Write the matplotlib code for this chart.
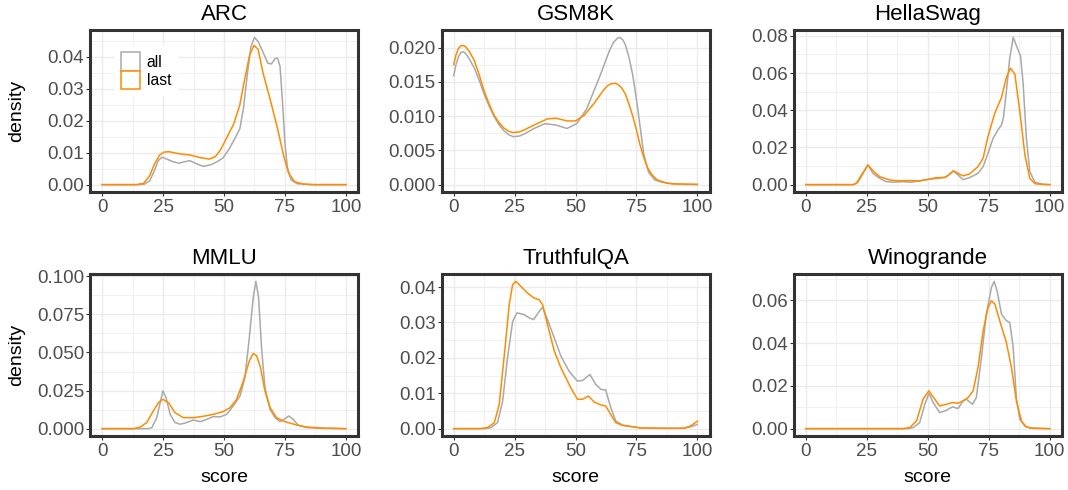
import matplotlib
matplotlib.use('Agg')
import matplotlib.pyplot as plt
from matplotlib.patches import Patch
from matplotlib.ticker import MultipleLocator, FormatStrFormatter

plt.rcParams['font.family'] = ['Liberation Sans', 'DejaVu Sans']

# ---------------- data (density curves) ----------------
benchmarks = ["ARC", "GSM8K", "HellaSwag", "MMLU", "TruthfulQA", "Winogrande"]
series_labels = ["all", "last"]

ARC_all_x = [0, 15, 17.5, 19.5, 21.5, 23, 24.5, 26.5, 29, 31.5, 34, 36, 38.5, 41.5, 44.5, 47, 49.5, 52, 54.5, 56.5,
             58, 59.5, 61, 62.5, 64, 66, 68, 69.5, 71, 72, 73, 74, 75, 76, 77.5, 80, 85, 100]
ARC_all_y = [0, 0, 0.0002, 0.0012, 0.0045, 0.0075, 0.0086, 0.0080, 0.0072, 0.0067, 0.0072, 0.0075, 0.0066, 0.0057,
             0.0062, 0.0071, 0.0083, 0.0110, 0.0145, 0.0175, 0.0240, 0.0340, 0.0430, 0.0461, 0.0448, 0.0415, 0.0380,
             0.0378, 0.0395, 0.0396, 0.0370, 0.0260, 0.0130, 0.0055, 0.0015, 0.0003, 0, 0]
ARC_last_x = [0, 14, 17, 19.5, 21.5, 23.5, 25.5, 27.5, 30, 33, 36, 40, 44, 46.5, 48.5, 51, 54, 56.5, 58.5, 60.5,
              62.3, 64, 66, 69, 72, 74.5, 76.5, 79, 82.5, 87, 100]
ARC_last_y = [0, 0, 0.0004, 0.0028, 0.0065, 0.0092, 0.0102, 0.0103, 0.0099, 0.0095, 0.0093, 0.0085, 0.0080, 0.0088,
              0.0108, 0.0145, 0.0190, 0.0250, 0.0330, 0.0405, 0.0436, 0.0424, 0.0350, 0.0265, 0.0175, 0.0090, 0.0036,
              0.0009, 0.0002, 0, 0]

GSM8K_all_x = [0, 1, 2, 3, 4, 5, 6.5, 8.5, 10.5, 12.5, 14.5, 16.5, 18.5, 20.5, 22.5, 24.5, 27, 29, 33, 37.5, 42,
               46.5, 50.5, 54.5, 58.5, 60.5, 62.5, 64, 65.5, 67, 68.2, 69.5, 70.5, 72, 73.5, 75, 76.5, 78, 80, 82.5,
               85, 90, 95, 100]
GSM8K_all_y = [0.0159, 0.0176, 0.0187, 0.0193, 0.0194, 0.0191, 0.0183, 0.0170, 0.0152, 0.0132, 0.0115, 0.0100,
               0.0088, 0.0079, 0.0073, 0.0070, 0.0071, 0.0074, 0.0082, 0.0089, 0.0087, 0.0082, 0.0089, 0.0110,
               0.0145, 0.0163, 0.0182, 0.0196, 0.0207, 0.0213, 0.0215, 0.0211, 0.0204, 0.0185, 0.0160, 0.0125,
               0.0085, 0.0045, 0.0018, 0.0007, 0.0004, 0.0001, 0.00003, 0]
GSM8K_last_x = [0, 1, 2, 3, 4, 5, 6.5, 8.5, 10.5, 12.5, 14.5, 16.5, 18.5, 20.5, 22.5, 24.5, 27, 29, 33, 38.5, 42,
                46.5, 50, 53.5, 57.5, 61.5, 63, 64.5, 66.1, 67.5, 69, 70.5, 72, 73.5, 75, 76.5, 78, 79.5, 81.5, 83.5,
                87.5, 92, 100]
GSM8K_last_y = [0.0175, 0.0190, 0.0199, 0.0203, 0.0203, 0.0201, 0.0194, 0.0181, 0.0160, 0.0137, 0.0118, 0.0102,
                0.0091, 0.0083, 0.0078, 0.0076, 0.0077, 0.0080, 0.0087, 0.0096, 0.0097, 0.0093, 0.0093, 0.0101,
                0.0118, 0.0138, 0.0144, 0.0147, 0.0148, 0.0146, 0.0141, 0.0132, 0.0117, 0.0100, 0.0080, 0.0058,
                0.0040, 0.0025, 0.0014, 0.0007, 0.0002, 0.0001, 0.00005]

HellaSwag_all_x = [0, 19.5, 21.4, 23.5, 25.5, 27.6, 30.3, 33, 35.8, 39.9, 43, 46.7, 50.8, 54.9, 57.7, 60.4, 62.4,
                   64.5, 67.2, 70.6, 72.7, 74.7, 76.8, 78.8, 80.2, 81, 82.2, 83.6, 85, 86.6, 88, 89.1, 90.4, 91.8,
                   93.9, 97.3, 100]
HellaSwag_all_y = [0, 0, 0.0013, 0.0060, 0.0106, 0.0060, 0.0034, 0.0016, 0.0013, 0.0016, 0.0013, 0.0020, 0.0030,
                   0.0034, 0.0043, 0.0074, 0.0052, 0.0027, 0.0038, 0.0061, 0.0097, 0.0170, 0.0250, 0.0296, 0.0320,
                   0.0360, 0.0500, 0.0680, 0.0792, 0.0738, 0.0693, 0.0540, 0.0251, 0.0070, 0.0013, 0.0002, 0]
HellaSwag_last_x = [0, 19.5, 20.8, 22.8, 25.5, 27.6, 30.3, 34.4, 38.5, 42.6, 46.7, 50.8, 53.6, 57, 59, 60.6, 62.4,
                    64.5, 67.2, 70.6, 72.7, 74.7, 77.5, 80.2, 82.2, 83.9, 85.7, 87.7, 89.8, 91.8, 93.9, 97, 100]
HellaSwag_last_y = [0, 0, 0.0007, 0.0052, 0.0106, 0.0074, 0.0043, 0.0025, 0.0020, 0.0022, 0.0020, 0.0030, 0.0038,
                    0.0038, 0.0056, 0.0074, 0.0061, 0.0047, 0.0058, 0.0097, 0.0143, 0.0260, 0.0386, 0.0468, 0.0576,
                    0.0626, 0.0594, 0.0395, 0.0160, 0.0034, 0.0005, 0.0001, 0]

MMLU_all_x = [0, 19, 20.4, 22.4, 23.8, 24.9, 26.2, 27.9, 29.9, 32, 34.7, 37.4, 40.2, 42.9, 45.6, 48.4, 51.1, 53.8,
              56.6, 58.6, 60.4, 62, 63.1, 64.2, 65.4, 66.8, 68.9, 70.9, 73, 74.6, 76.6, 78.4, 80.5, 83.9, 90, 100]
MMLU_all_y = [0, 0, 0.0007, 0.0072, 0.0171, 0.0248, 0.0204, 0.0094, 0.0040, 0.0029, 0.0040, 0.0057, 0.0046, 0.0061,
              0.0079, 0.0077, 0.0094, 0.0149, 0.0215, 0.0336, 0.0599, 0.0862, 0.0967, 0.0862, 0.0533, 0.0270, 0.0127,
              0.0072, 0.0046, 0.0061, 0.0083, 0.0061, 0.0022, 0.0007, 0.0002, 0]
MMLU_last_x = [0, 13, 15.6, 18.3, 21, 23.1, 24.9, 27.2, 29.9, 33.3, 37.4, 41.5, 45.6, 49.7, 52.5, 55.2, 58, 60.4,
               62, 63.4, 65, 66.8, 68.9, 71.6, 74.3, 77, 79.8, 83.9, 90, 100]
MMLU_last_y = [0, 0, 0.0010, 0.0040, 0.0116, 0.0171, 0.0193, 0.0171, 0.0105, 0.0072, 0.0072, 0.0081, 0.0094, 0.0112,
               0.0138, 0.0193, 0.0314, 0.0445, 0.0493, 0.0478, 0.0401, 0.0248, 0.0138, 0.0072, 0.0050, 0.0037,
               0.0024, 0.0011, 0.0004, 0]

TruthfulQA_all_x = [0, 13, 15.3, 18, 20.1, 22.1, 24.2, 26, 29, 31, 32.8, 35.1, 36.5, 38.5, 41.3, 44, 47.4, 50.8,
                    52.9, 55.9, 58.3, 60.4, 62.4, 64.5, 66.5, 69.3, 72.7, 76.8, 85, 94.5, 97.3, 100]
TruthfulQA_all_y = [0, 0, 0.0003, 0.0017, 0.0078, 0.0200, 0.0303, 0.0327, 0.0322, 0.0313, 0.0308, 0.0331, 0.0343,
                    0.0308, 0.0256, 0.0205, 0.0162, 0.0134, 0.0136, 0.0153, 0.0125, 0.0111, 0.0109, 0.0059, 0.0022,
                    0.0010, 0.0006, 0.0002, 0.0001, 0.0001, 0.0005, 0.0012]
TruthfulQA_last_x = [0, 11, 13.9, 16.7, 18.7, 20.8, 22.8, 24.2, 25.5, 27.6, 30.3, 33, 35.1, 36.5, 38.5, 41.3, 44,
                     48.1, 50.8, 52.9, 55.3, 57.7, 60.4, 62.4, 64.5, 66.5, 69.3, 72.7, 76.8, 85, 94.5, 97.3, 100]
TruthfulQA_last_y = [0, 0, 0.0003, 0.0017, 0.0069, 0.0209, 0.0350, 0.0407, 0.0416, 0.0402, 0.0383, 0.0369, 0.0364,
                     0.0350, 0.0294, 0.0219, 0.0172, 0.0115, 0.0083, 0.0083, 0.0092, 0.0075, 0.0067, 0.0064, 0.0040,
                     0.0017, 0.0009, 0.0006, 0.0002, 0.0001, 0.0001, 0.0008, 0.0021]

Winogrande_all_x = [0, 42, 44, 46.7, 48.8, 50.5, 52.2, 54.9, 57.7, 60.1, 62.4, 64.5, 65.8, 68.3, 69.9, 72, 74, 76.1,
                    77.2, 78.4, 80.2, 82.2, 83.6, 85, 86.3, 87.7, 89.8, 92, 100]
Winogrande_all_y = [0, 0, 0.0005, 0.0028, 0.0114, 0.0164, 0.0122, 0.0075, 0.0086, 0.0102, 0.0094, 0.0130, 0.0138,
                    0.0114, 0.0145, 0.0333, 0.0536, 0.0661, 0.0689, 0.0645, 0.0536, 0.0505, 0.0497, 0.0380, 0.0145,
                    0.0044, 0.0011, 0.0002, 0]
Winogrande_last_x = [0, 40, 42.6, 45.4, 48.1, 50.5, 52.2, 54.9, 57.7, 60.1, 62.4, 64.5, 66.5, 68.6, 70.6, 72.7,
                     74.7, 76.1, 77.5, 79.5, 82.2, 84.3, 86.3, 88.4, 90.4, 93, 100]
Winogrande_last_y = [0, 0, 0.0005, 0.0036, 0.0138, 0.0177, 0.0148, 0.0106, 0.0114, 0.0122, 0.0119, 0.0130, 0.0145,
                     0.0177, 0.0286, 0.0458, 0.0567, 0.0598, 0.0583, 0.0505, 0.0403, 0.0286, 0.0130, 0.0036, 0.0008,
                     0.0002, 0]

x_ticks = [0, 25, 50, 75, 100]
y_tick_steps = [0.01, 0.005, 0.02, 0.025, 0.01, 0.02]
y_tick_formats = ["%.2f", "%.3f", "%.2f", "%.3f", "%.2f", "%.2f"]

curves = {
    "ARC": ((ARC_all_x, ARC_all_y), (ARC_last_x, ARC_last_y)),
    "GSM8K": ((GSM8K_all_x, GSM8K_all_y), (GSM8K_last_x, GSM8K_last_y)),
    "HellaSwag": ((HellaSwag_all_x, HellaSwag_all_y), (HellaSwag_last_x, HellaSwag_last_y)),
    "MMLU": ((MMLU_all_x, MMLU_all_y), (MMLU_last_x, MMLU_last_y)),
    "TruthfulQA": ((TruthfulQA_all_x, TruthfulQA_all_y), (TruthfulQA_last_x, TruthfulQA_last_y)),
    "Winogrande": ((Winogrande_all_x, Winogrande_all_y), (Winogrande_last_x, Winogrande_last_y)),
}

# ---------------- styling ----------------
COL_ALL = "#A9A9A9"
COL_LAST = "#FF8C00"
BORDER = "#333333"
GRID = "#EBEBEB"
TICK_TXT = "#4D4D4D"

W, H = 1068, 490
fig = plt.figure(figsize=(W / 100, H / 100), dpi=100)
fig.patch.set_facecolor("white")

cols_px = [(90, 358), (441.5, 709.5), (793.5, 1062)]
rows_px = [(30, 192), (274, 436)]

for i, name in enumerate(benchmarks):
    r, c = divmod(i, 3)
    l, rt = cols_px[c]
    t, b = rows_px[r]
    ax = fig.add_axes([l / W, 1 - b / H, (rt - l) / W, (b - t) / H])
    (ax_x, ax_y), (lx, ly) = curves[name]
    ax.plot(ax_x, ax_y, color=COL_ALL, lw=1.1, solid_joinstyle="round", zorder=3)
    ax.plot(lx, ly, color=COL_LAST, lw=1.1, solid_joinstyle="round", zorder=4)

    ymax = max(max(ax_y), max(ly))
    ax.set_xlim(-5, 105)
    ax.set_ylim(-0.05 * ymax, 1.05 * ymax)

    step = y_tick_steps[i]
    ax.xaxis.set_major_locator(MultipleLocator(25))
    ax.xaxis.set_minor_locator(MultipleLocator(12.5))
    ax.yaxis.set_major_locator(MultipleLocator(step))
    ax.yaxis.set_minor_locator(MultipleLocator(step / 2))
    ax.yaxis.set_major_formatter(FormatStrFormatter(y_tick_formats[i]))
    ax.set_xticks(x_ticks)
    ax.set_xticklabels([str(v) for v in x_ticks])

    ax.grid(which="major", color=GRID, lw=1.0, zorder=0)
    ax.grid(which="minor", color=GRID, lw=0.5, zorder=0)
    ax.set_axisbelow(True)

    ax.tick_params(which="major", length=2.7, width=0.8, color=BORDER,
                   labelsize=13.5, labelcolor=TICK_TXT)
    ax.tick_params(axis="x", which="major", pad=2.5)
    ax.tick_params(axis="y", which="major", pad=1.5)
    ax.tick_params(which="minor", length=0)
    for sp in ax.spines.values():
        sp.set_color(BORDER)
        sp.set_linewidth(2.2)

    ax.set_title(name, fontsize=16, pad=7, color="black")

    if c == 0:
        fig.text(17 / W, 1 - ((t + b) / 2) / H, "density", rotation=90,
                 ha="center", va="center", fontsize=14)
    if r == 1:
        fig.text(((l + rt) / 2) / W, 1 - 477 / H, "score",
                 ha="center", va="center", fontsize=14)

    if name == "ARC":
        handles = [Patch(facecolor="white", edgecolor=COL_ALL, lw=1.1),
                   Patch(facecolor="white", edgecolor=COL_LAST, lw=1.1)]
        leg = ax.legend(handles, series_labels, loc="upper left",
                        bbox_to_anchor=((115 - l) / (rt - l), (b - 46) / (b - t)),
                        borderaxespad=0, frameon=True, fontsize=11.3,
                        handlelength=1.17, handleheight=1.42, handletextpad=0.45,
                        labelspacing=0.0, borderpad=0.4)
        leg.get_frame().set_facecolor("white")
        leg.get_frame().set_edgecolor("white")
        leg.get_frame().set_alpha(1)
        leg.get_frame().set_boxstyle("square", pad=0)

fig.savefig("out.png", dpi=100, facecolor="white")
